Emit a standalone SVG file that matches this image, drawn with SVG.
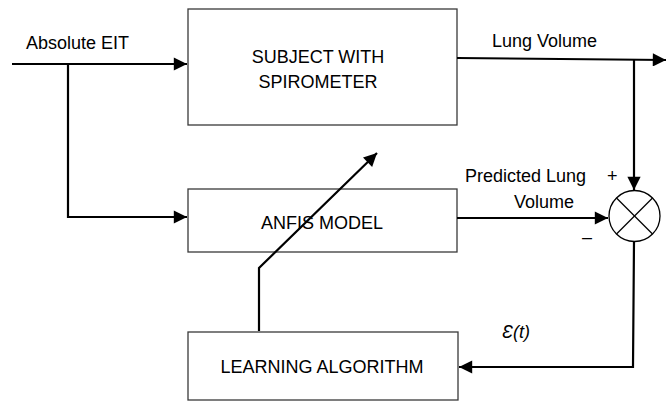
<svg xmlns="http://www.w3.org/2000/svg" width="667" height="403" viewBox="0 0 667 403">
  <style>
    .box { fill: #ffffff; stroke: #3a3a3a; stroke-width: 1.3; }
    .wire { fill: none; stroke: #000000; stroke-width: 2.2; }
    .lbl { font-family: "Liberation Sans", Arial, sans-serif; font-size: 18px; fill: #000000; }
    .mid { text-anchor: middle; }
  </style>
  <defs>
    <marker id="arrow" viewBox="0 0 10 10" refX="10" refY="5" markerWidth="6.5" markerHeight="6" markerUnits="strokeWidth" orient="auto">
      <path d="M0,0 L10,5 L0,10 Z" fill="#000000"/>
    </marker>
  </defs>

  <rect width="667" height="403" fill="#ffffff"/>

  <!-- blocks -->
  <g id="subject">
    <rect class="box" x="188" y="9" width="269" height="116"/>
    <text class="lbl mid" x="318" y="63">SUBJECT WITH</text>
    <text class="lbl mid" x="318" y="88">SPIROMETER</text>
  </g>

  <g id="anfis">
    <rect class="box" x="188" y="189" width="269" height="63"/>
    <text class="lbl mid" x="322" y="229">ANFIS MODEL</text>
  </g>

  <g id="learning">
    <rect class="box" x="188" y="332" width="270" height="68"/>
    <text class="lbl mid" x="322" y="373">LEARNING ALGORITHM</text>
  </g>

  <g id="summer">
    <circle cx="634.5" cy="216" r="25.5" fill="#ffffff" stroke="#000000" stroke-width="1.3"/>
    <line x1="616.5" y1="198" x2="652.5" y2="234" stroke="#000000" stroke-width="1.2"/>
    <line x1="652.5" y1="198" x2="616.5" y2="234" stroke="#000000" stroke-width="1.2"/>
  </g>

  <!-- connectors -->
  <g id="connectors">
    <line class="wire" x1="12" y1="64" x2="187" y2="64" marker-end="url(#arrow)"/>
    <polyline class="wire" points="68,64 68,217 187,217" marker-end="url(#arrow)"/>
    <line class="wire" x1="457" y1="58" x2="666" y2="60" marker-end="url(#arrow)"/>
    <line class="wire" x1="634" y1="59" x2="634" y2="190" marker-end="url(#arrow)"/>
    <line class="wire" x1="457" y1="218" x2="608" y2="218" marker-end="url(#arrow)"/>
    <polyline class="wire" points="634,241.5 633,367 459,367" marker-end="url(#arrow)"/>
    <polyline class="wire" points="259,331 259,268 377,153" marker-end="url(#arrow)"/>
  </g>

  <!-- signal labels -->
  <g id="labels">
    <text class="lbl" x="26" y="49">Absolute EIT</text>
    <text class="lbl" x="492" y="47">Lung Volume</text>
    <text class="lbl" x="465" y="182">Predicted Lung</text>
    <text class="lbl" x="514" y="208">Volume</text>
    <text class="lbl" x="607" y="182">+</text>
    <text class="lbl" x="582" y="243">–</text>
    <text class="lbl" x="502" y="338" font-size="19" font-style="italic">Ɛ(t)</text>
  </g>
</svg>
